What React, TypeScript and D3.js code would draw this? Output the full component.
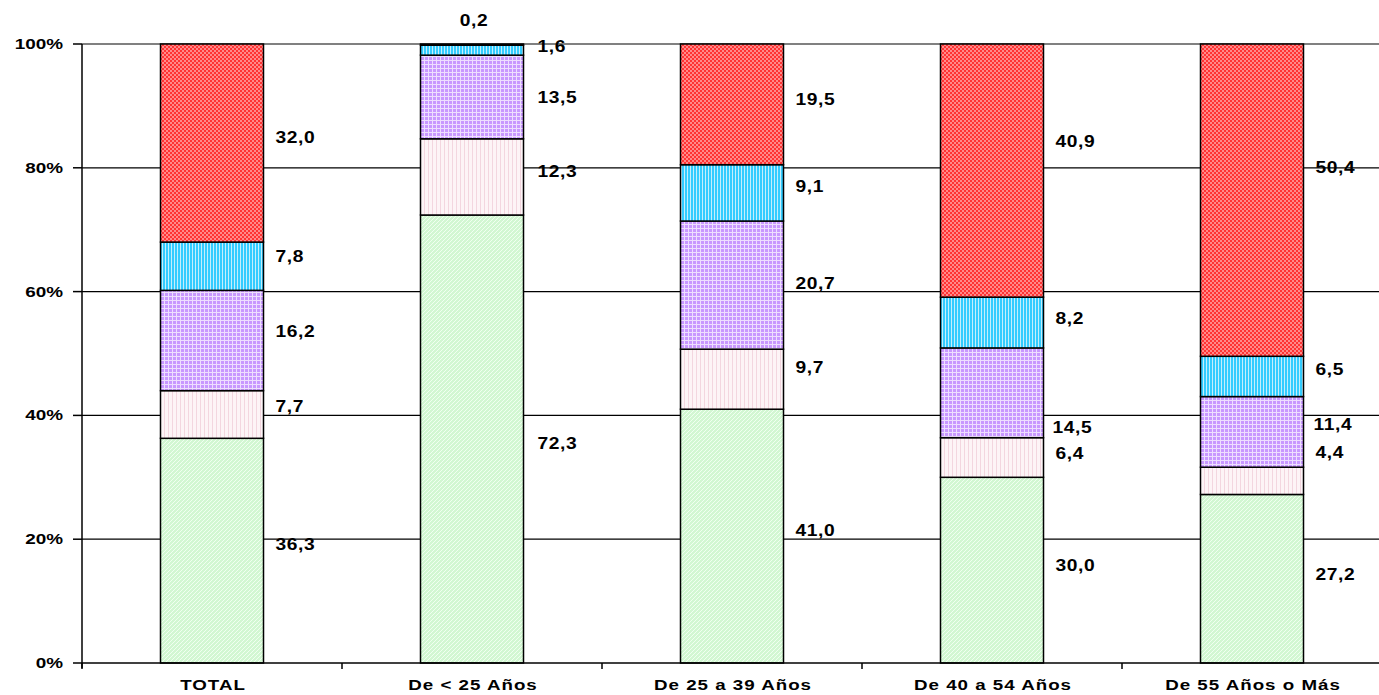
import React from "react";
import * as d3 from "d3";

const categories = ["TOTAL", "De < 25 Años", "De 25 a 39 Años", "De 40 a 54 Años", "De 55 Años o Más"];
const s1 = [36.3, 72.3, 41.0, 30.0, 27.2];
const s2 = [7.7, 12.3, 9.7, 6.4, 4.4];
const s3 = [16.2, 13.5, 20.7, 14.5, 11.4];
const s4 = [7.8, 1.6, 9.1, 8.2, 6.5];
const s5 = [32.0, 0.2, 19.5, 40.9, 50.4];
const series = [s1, s2, s3, s4, s5];
const yTicks = [0, 20, 40, 60, 80, 100];
const patternIds = ["pGreen", "pPink", "pPurple", "pCyan", "pRed"];

// manual label nudges (px) as placed in the original chart, per category, per series
const labelNudgeY = [
  [-6, -8, -9, -10, -6],
  [4, -6, 0, -4, 0],
  [-6, -12, -2, -6, -5],
  [-5, -4, 35, -4, -29],
  [-4, -28, -7, -7, -33],
];
const labelNudgeX = [
  [0, 0, 0, 0, 0],
  [2, 2, 2, 2, 0],
  [0, 0, 0, 0, 0],
  [0, 0, -3, 0, 0],
  [0, 0, -2, 0, 0],
];

const fmt = (v: number) => v.toFixed(1).replace(".", ",");

export default function App() {
  const W = 1379, H = 695;
  const left = 82, top = 44, bottom = 663;
  const x = d3.scaleBand<string>().domain(categories).range([left, left + 260 * 5]).paddingInner(0).paddingOuter(0);
  const y = d3.scaleLinear().domain([0, 100]).range([bottom, top]);
  const barW = 103;
  const font = "'Liberation Sans', Arial, sans-serif";

  const data = categories.map((c, i) => {
    const vals = series.map((s) => s[i]);
    const tot = d3.sum(vals);
    let acc = 0;
    return vals.map((v, k) => {
      const y0 = (acc / tot) * 100;
      acc += v;
      const y1 = (acc / tot) * 100;
      return { c, i, v, y0, y1, k };
    });
  });

  return (
    <svg width={W} height={H} style={{ position: "absolute", left: 0, top: 0, background: "#fff" }}>
      <defs>
        <pattern id="pGreen" width="4" height="4" patternUnits="userSpaceOnUse">
          <rect width="4" height="4" fill="#d2f7d2" />
          <path d="M0,4 L4,0 M-1,1 L1,-1 M3,5 L5,3" stroke="#f0fff0" strokeWidth="1" />
        </pattern>
        <pattern id="pPink" width="4" height="4" patternUnits="userSpaceOnUse">
          <rect width="4" height="4" fill="#fdf4f6" />
          <rect x="0" y="0" width="1" height="4" fill="#f3d6df" />
        </pattern>
        <pattern id="pPurple" width="4" height="4" patternUnits="userSpaceOnUse">
          <rect width="4" height="4" fill="#c898ff" />
          <rect x="0" y="0" width="4" height="1" fill="#eedeff" />
          <rect x="0" y="0" width="1" height="4" fill="#eedeff" />
        </pattern>
        <pattern id="pCyan" width="3" height="3" patternUnits="userSpaceOnUse">
          <rect width="3" height="3" fill="#33ccff" />
          <rect x="0" y="0" width="1" height="3" fill="#c4eefc" />
        </pattern>
        <pattern id="pRed" width="4" height="4" patternUnits="userSpaceOnUse">
          <rect width="4" height="4" fill="#ff3333" />
          <rect x="0" y="0" width="2" height="2" fill="#ff8a8a" />
          <rect x="2" y="2" width="2" height="2" fill="#ff8a8a" />
        </pattern>
      </defs>

      {/* gridlines */}
      {yTicks.filter((t) => t > 0).map((t) => (
        <line key={t} x1={left} x2={W} y1={y(t)} y2={y(t)} stroke={t === 100 ? "#808080" : "#000"} strokeWidth={t === 100 ? 2 : 1.3} />
      ))}

      {/* bars */}
      {data.map((segs) =>
        segs.map((s) => {
          const cx = (x(s.c) as number) + x.bandwidth() / 2;
          return (
            <rect key={s.c + s.k} x={cx - barW / 2} y={y(s.y1)} width={barW} height={y(s.y0) - y(s.y1)}
              fill={`url(#${patternIds[s.k]})`} stroke="#000" strokeWidth={1.5} />
          );
        })
      )}

      {/* value labels */}
      {data.map((segs) =>
        segs.map((s) => {
          const cx = (x(s.c) as number) + x.bandwidth() / 2;
          const tiny = s.v < 1;
          const tx = tiny ? cx + 2 : cx + barW / 2 + 12 + labelNudgeX[s.i][s.k];
          const ty = tiny ? y(100) - 24 : (y(s.y0) + y(s.y1)) / 2 + labelNudgeY[s.i][s.k];
          return (
            <text key={"l" + s.c + s.k} transform={`translate(${tx},${ty}) scale(1.2,1)`} dy="0.35em"
              textAnchor={tiny ? "middle" : "start"}
              fontFamily={font} fontWeight="bold" fontSize={16} fill="#000" letterSpacing="0.5">
              {fmt(s.v)}
            </text>
          );
        })
      )}

      {/* axes */}
      <line x1={left} x2={left} y1={top} y2={bottom + 5} stroke="#000" strokeWidth={1.5} />
      <line x1={left} x2={W} y1={bottom} y2={bottom} stroke="#000" strokeWidth={1.5} />
      {yTicks.map((t) => (
        <g key={"yt" + t}>
          <line x1={left - 9} x2={left} y1={y(t)} y2={y(t)} stroke="#000" strokeWidth={1.5} />
          <text transform={`translate(63,${y(t)}) scale(1.35,1)`} dy="0.35em" textAnchor="end"
            fontFamily={font} fontWeight="bold" fontSize={14}>
            {t}%
          </text>
        </g>
      ))}
      {categories.map((c, i) => (
        <line key={"xt" + i} x1={(x(c) as number)} x2={(x(c) as number)} y1={bottom} y2={bottom + 6} stroke="#000" strokeWidth={1.5} />
      ))}
      {categories.map((c) => (
        <text key={"xl" + c} transform={`translate(${(x(c) as number) + x.bandwidth() / 2 + 1},${bottom + 22}) scale(1.25,1)`}
          dy="0.35em" textAnchor="middle"
          fontFamily={font} fontWeight="bold" fontSize={15} letterSpacing="0.8">
          {c}
        </text>
      ))}
    </svg>
  );
}
